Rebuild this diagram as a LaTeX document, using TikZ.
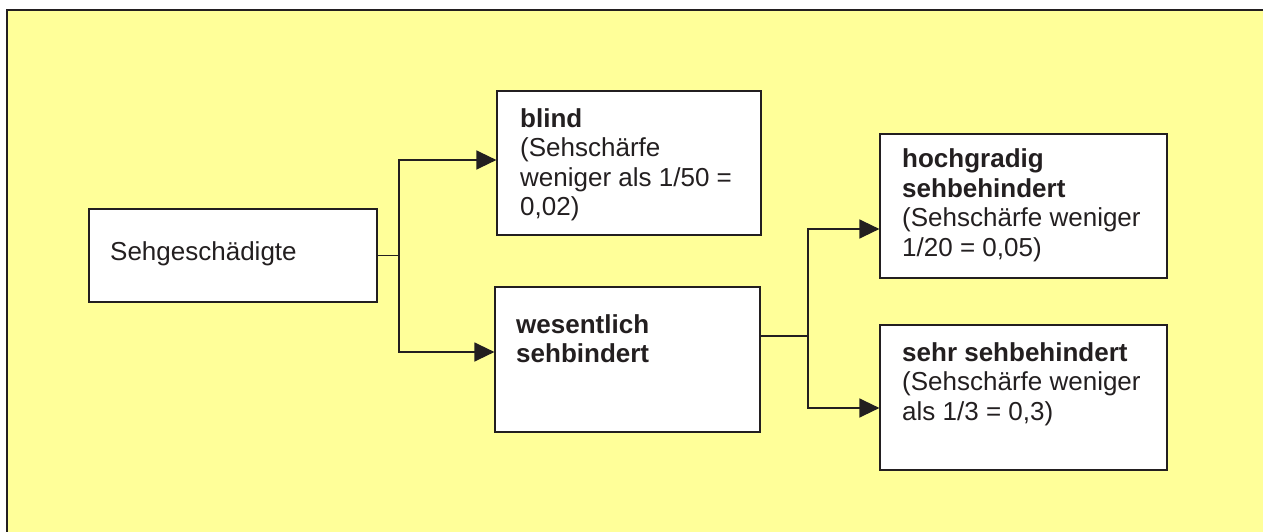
\documentclass[tikz,border=0pt]{standalone}
\usepackage{fontspec}
\setmainfont{Liberation Sans}
\usetikzlibrary{arrows.meta}
\definecolor{bgyellow}{HTML}{FFFF99}
\definecolor{ink}{HTML}{231F20}
\tikzset{
  box/.style={draw=ink, line width=1.2pt, fill=white, rectangle, inner sep=0pt},
  txt/.style={anchor=base west, inner sep=0pt, align=left, text=ink,
    font=\fontsize{26}{29.5}\selectfont},
  conn/.style={draw=ink, line width=1.3pt},
  arr/.style={conn, -{Triangle[length=20pt,width=19pt]}},
}
\begin{document}
\begin{tikzpicture}[x=1pt,y=-1pt]
\useasboundingbox (0,0) rectangle (1263,532);
\fill[bgyellow] (7,10) rectangle (1263,532);
\draw[ink, line width=2pt] (7,532) -- (7,10) -- (1263,10);

\node[box, minimum width=288pt, minimum height=93pt] (seh) at (233,255.5) {};
\node[box, minimum width=264pt, minimum height=144pt] (blind) at (629,163) {};
\node[box, minimum width=265pt, minimum height=145pt] (wes) at (627.5,359.5) {};
\node[box, minimum width=287pt, minimum height=144pt] (hoch) at (1023.5,206) {};
\node[box, minimum width=287pt, minimum height=145pt] (sehr) at (1023.5,397.5) {};

% base anchor = baseline of the last line
\node[txt] (seht) at (110,260) {Sehgeschädigte};
\node[txt] (blindt) at (520,215.5) {\textbf{blind}\\(Sehschärfe\\weniger als 1/50 =\\0,02)};
\node[txt] (west) at (516,362.5) {\textbf{wesentlich}\\\textbf{sehbindert}};
\node[txt] (hocht) at (902,256) {\textbf{hochgradig}\\\textbf{sehbehindert}\\(Sehschärfe weniger\\1/20 = 0,05)};
\node[txt] (sehrt) at (902,420) {\textbf{sehr sehbehindert}\\(Sehschärfe weniger\\als 1/3 = 0,3)};

\coordinate (j1) at (399,255.5);
\coordinate (j2) at (808,336);
\draw[conn] (seh.east) -- (j1);
\draw[arr] (j1) |- ([yshift=3pt]blind.west);
\draw[arr] (j1) |- ([yshift=7.5pt]wes.west);
\draw[conn] ([yshift=23.5pt]wes.east) -- (j2);
\draw[arr] (j2) |- ([yshift=-23pt]hoch.west);
\draw[arr] (j2) |- ([yshift=-10.5pt]sehr.west);
\end{tikzpicture}
\end{document}
